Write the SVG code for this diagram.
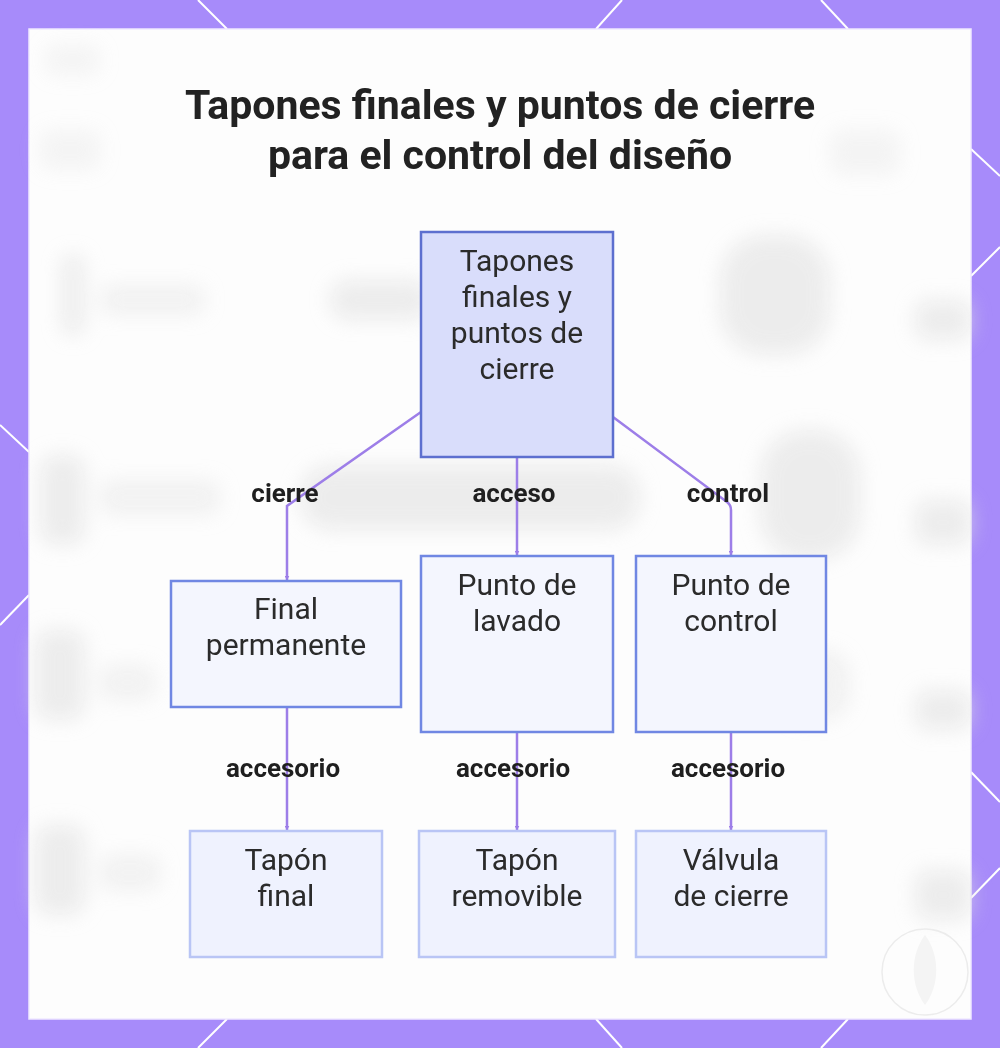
<svg xmlns="http://www.w3.org/2000/svg" width="1000" height="1048" viewBox="0 0 1000 1048">
  <defs>
    <filter id="blur" x="-50%" y="-50%" width="200%" height="200%">
      <feGaussianBlur stdDeviation="10"/>
    </filter>
    <marker id="arrow" viewBox="0 0 10 10" refX="9" refY="5" markerWidth="5" markerHeight="5" orient="auto-start-reverse" markerUnits="userSpaceOnUse">
      <path d="M0,0 L10,5 L0,10 z" fill="#9d7ee8"/>
    </marker>
    <style>
      .bline { stroke: #ffffff; stroke-width: 2; fill: none; }
      .ghost { fill: #e2e2e2; }
      .edge { stroke: #9d7ee8; stroke-width: 2.5; fill: none; marker-end: url(#arrow); }
      .root rect { fill: #d9ddfb; stroke: #5d6fcf; stroke-width: 2.5; }
      .mid rect { fill: #f4f6fe; stroke: #7087e3; stroke-width: 2.5; }
      .leaf rect { fill: #eff2fe; stroke: #b9c5f5; stroke-width: 2.5; }
      .ntext { font-family: Roboto, "Liberation Sans", sans-serif; font-size: 30px; fill: #2b2b2b; text-anchor: middle; }
      .elabel { font-family: Roboto, "Liberation Sans", sans-serif; font-size: 26px; font-weight: bold; fill: #1f1f1f; text-anchor: middle; }
      .title { font-family: Roboto, "Liberation Sans", sans-serif; font-size: 41px; font-weight: bold; fill: #222222; text-anchor: middle; }
    </style>
  </defs>

  <!-- border -->
  <rect x="0" y="0" width="1000" height="1048" fill="#a78bfa"/>
  <g id="border-lines">
    <line class="bline" x1="198" y1="0" x2="227" y2="29"/>
    <line class="bline" x1="622" y1="0" x2="596" y2="29"/>
    <line class="bline" x1="821" y1="0" x2="848" y2="29"/>
    <line class="bline" x1="198" y1="1048" x2="227" y2="1019"/>
    <line class="bline" x1="622" y1="1048" x2="596" y2="1019"/>
    <line class="bline" x1="821" y1="1048" x2="848" y2="1019"/>
    <line class="bline" x1="0" y1="425" x2="29" y2="452"/>
    <line class="bline" x1="29" y1="595" x2="0" y2="625"/>
    <line class="bline" x1="971" y1="149" x2="1000" y2="176"/>
    <line class="bline" x1="1000" y1="247" x2="971" y2="276"/>
    <line class="bline" x1="971" y1="772" x2="1000" y2="802"/>
    <line class="bline" x1="1000" y1="868" x2="971" y2="898"/>
  </g>

  <!-- panel -->
  <rect x="29" y="29" width="942" height="990" fill="#fdfdfd" stroke="#efe9ff" stroke-width="1.5"/>

  <!-- blurred background -->
  <g id="background" filter="url(#blur)" opacity="0.6">
    <rect class="ghost" x="45" y="45" width="55" height="30" rx="10" opacity="0.5"/>
    <rect class="ghost" x="40" y="130" width="60" height="40" rx="10" opacity="0.5"/>
    <rect class="ghost" x="830" y="130" width="70" height="45" rx="12" opacity="0.5"/>
    <rect class="ghost" x="62" y="255" width="22" height="80" rx="8"/>
    <rect class="ghost" x="100" y="285" width="105" height="30" rx="10" opacity="0.7"/>
    <rect class="ghost" x="330" y="280" width="100" height="40" rx="18"/>
    <rect class="ghost" x="720" y="235" width="110" height="120" rx="45"/>
    <rect class="ghost" x="915" y="300" width="56" height="40" rx="12"/>
    <rect class="ghost" x="40" y="455" width="45" height="90" rx="15"/>
    <rect class="ghost" x="100" y="480" width="120" height="35" rx="12" opacity="0.7"/>
    <rect class="ghost" x="300" y="465" width="340" height="65" rx="30"/>
    <rect class="ghost" x="760" y="430" width="100" height="130" rx="45"/>
    <rect class="ghost" x="915" y="500" width="56" height="45" rx="12"/>
    <rect class="ghost" x="35" y="630" width="50" height="90" rx="15"/>
    <rect class="ghost" x="100" y="665" width="55" height="35" rx="10" opacity="0.7"/>
    <rect class="ghost" x="780" y="650" width="70" height="70" rx="25" opacity="0.7"/>
    <rect class="ghost" x="915" y="690" width="56" height="40" rx="12"/>
    <rect class="ghost" x="35" y="825" width="50" height="90" rx="15"/>
    <rect class="ghost" x="100" y="855" width="60" height="35" rx="10" opacity="0.7"/>
    <rect class="ghost" x="915" y="870" width="56" height="50" rx="12"/>
  </g>

  <!-- watermark -->
  <g id="watermark">
    <circle cx="925" cy="972" r="43" fill="none" stroke="#ececec" stroke-width="1.5"/>
    <path d="M925,935 C940,955 940,985 925,1005 C910,985 910,955 925,935 z" fill="#f4f4f4"/>
  </g>

  <!-- title -->
  <g id="title">
    <text class="title" x="500" y="119">Tapones finales y puntos de cierre</text>
    <text class="title" x="500" y="169">para el control del diseño</text>
  </g>

  <!-- connectors -->
  <g id="connectors">
    <path class="edge" d="M421,412 L287,506 L287,580"/>
    <path class="edge" d="M517,457 L517,555"/>
    <path class="edge" d="M613,417 L727,502 Q731,505 731,510 L731,555"/>
    <path class="edge" d="M287,707 L287,830"/>
    <path class="edge" d="M517,732 L517,830"/>
    <path class="edge" d="M731,732 L731,830"/>
  </g>

  <!-- edge labels -->
  <g id="edge-labels">
    <text class="elabel" x="285" y="502">cierre</text>
    <text class="elabel" x="514" y="502">acceso</text>
    <text class="elabel" x="728" y="502">control</text>
    <text class="elabel" x="283" y="777">accesorio</text>
    <text class="elabel" x="513" y="777">accesorio</text>
    <text class="elabel" x="728" y="777">accesorio</text>
  </g>

  <!-- nodes -->
  <g id="node-root" class="root">
    <rect x="421" y="232" width="192" height="225"/>
    <text class="ntext" x="517" y="271">Tapones</text>
    <text class="ntext" x="517" y="307">finales y</text>
    <text class="ntext" x="517" y="343">puntos de</text>
    <text class="ntext" x="517" y="379">cierre</text>
  </g>
  <g id="node-final-permanente" class="mid">
    <rect x="171" y="581" width="230" height="126"/>
    <text class="ntext" x="286" y="619">Final</text>
    <text class="ntext" x="286" y="655">permanente</text>
  </g>
  <g id="node-punto-lavado" class="mid">
    <rect x="421" y="556" width="192" height="176"/>
    <text class="ntext" x="517" y="595">Punto de</text>
    <text class="ntext" x="517" y="631">lavado</text>
  </g>
  <g id="node-punto-control" class="mid">
    <rect x="636" y="556" width="190" height="176"/>
    <text class="ntext" x="731" y="595">Punto de</text>
    <text class="ntext" x="731" y="631">control</text>
  </g>
  <g id="node-tapon-final" class="leaf">
    <rect x="190" y="831" width="192" height="126"/>
    <text class="ntext" x="286" y="870">Tapón</text>
    <text class="ntext" x="286" y="906">final</text>
  </g>
  <g id="node-tapon-removible" class="leaf">
    <rect x="419" y="831" width="196" height="126"/>
    <text class="ntext" x="517" y="870">Tapón</text>
    <text class="ntext" x="517" y="906">removible</text>
  </g>
  <g id="node-valvula-cierre" class="leaf">
    <rect x="636" y="831" width="190" height="126"/>
    <text class="ntext" x="731" y="870">Válvula</text>
    <text class="ntext" x="731" y="906">de cierre</text>
  </g>
</svg>
